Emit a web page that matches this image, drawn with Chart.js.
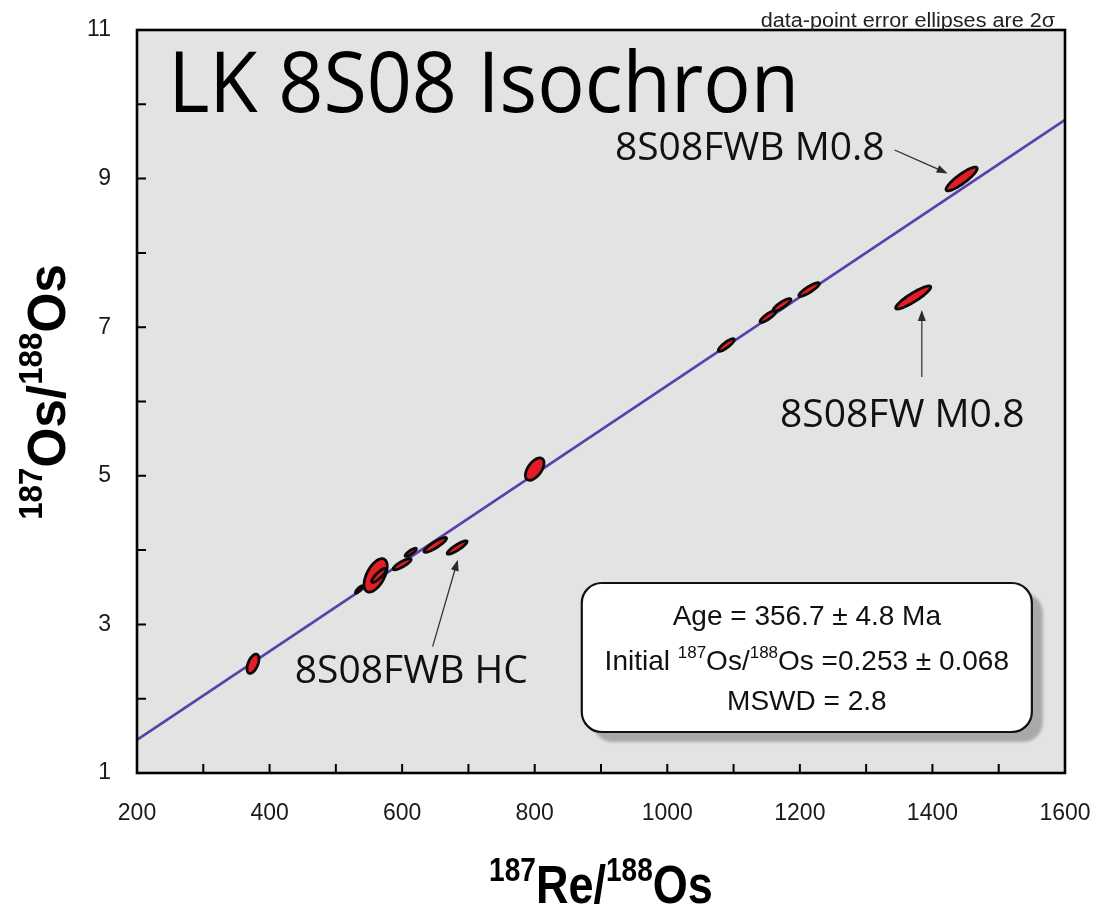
<!DOCTYPE html>
<html>
<head>
<meta charset="utf-8">
<script src="https://cdn.jsdelivr.net/npm/chart.js@4.4.1/dist/chart.umd.min.js"></script>
<style>
  html, body { margin: 0; padding: 0; background: #fff; }
  #wrap { width: 1099px; height: 911px; }
</style>
</head>
<body>
<div id="wrap"><canvas id="isochron" width="1099" height="911"></canvas></div>
<script>
// Re-Os data per sample: ratios, 2-sigma errors and error correlation
const reOs   = [375, 535, 560, 565, 600, 613, 650, 683, 800, 1089, 1152, 1173, 1214, 1371, 1444];
const osOs   = [2.47, 3.47, 3.66, 3.66, 3.81, 3.97, 4.07, 4.035, 5.09, 6.76, 7.144, 7.30, 7.507, 7.40, 8.995];
const reErr  = [9, 5.5, 17.5, 11, 13.5, 8.5, 17, 15, 14, 12, 12, 13.5, 15.5, 26.5, 23.5];
const osErr  = [0.13, 0.05, 0.225, 0.095, 0.075, 0.055, 0.1, 0.09, 0.15, 0.085, 0.08, 0.085, 0.092, 0.155, 0.16];
const errRho = [0.5, 0.85, 0.55, 0.86, 0.84, 0.84, 0.88, 0.88, 0.55, 0.85, 0.85, 0.85, 0.87, 0.9, 0.88];

// isochron result
const age = 356.7;        // Ma
const ageErr = 4.8;
const initialOs = 0.253;
const initialErr = 0.068;
const mswd = 2.8;
const lambdaRe = 1.666e-11;

// axes
const xRange = [200, 1600];
const yRange = [1, 11];
const xTickStep = 100;
const xLabelStep = 200;
const yTickStep = 1;

const slope = Math.exp(lambdaRe * age * 1e6) - 1;
const isoLine = xRange.map(v => ({ x: v, y: initialOs + slope * v }));

const FONT = "'Liberation Sans', Arial, sans-serif";
const LABEL_FONT = "'Open Sans', 'Noto Sans', sans-serif";

// text with superscript pieces, optional horizontal squeeze
function drawRich(ctx, parts, x, y, size, opts = {}) {
  const weight = opts.weight || 'normal';
  const family = opts.family || FONT;
  const squeeze = opts.squeeze || 1;
  const supSize = Math.round(size * 0.62);
  const measure = p => {
    ctx.font = `${weight} ${p.sup ? supSize : size}px ${family}`;
    return ctx.measureText(p.t).width;
  };
  const total = parts.reduce((s, p) => s + measure(p), 0) * squeeze;
  let start = x;
  if (opts.align === 'center') start = x - total / 2;
  else if (opts.align === 'right') start = x - total;
  ctx.save();
  ctx.translate(start, y);
  ctx.scale(squeeze, 1);
  ctx.textAlign = 'left';
  ctx.textBaseline = 'alphabetic';
  ctx.fillStyle = opts.color || '#111';
  let cx = 0;
  parts.forEach(p => {
    ctx.font = `${weight} ${p.sup ? supSize : size}px ${family}`;
    ctx.fillText(p.t, cx, p.sup ? -size * 0.42 : 0);
    cx += ctx.measureText(p.t).width;
  });
  ctx.restore();
}

function arrow(ctx, x0, y0, x1, y1) {
  const a = Math.atan2(y1 - y0, x1 - x0);
  const len = 11, half = 4;
  ctx.save();
  ctx.strokeStyle = '#2a2a2a';
  ctx.fillStyle = '#2a2a2a';
  ctx.lineWidth = 1.2;
  ctx.beginPath();
  ctx.moveTo(x0, y0);
  ctx.lineTo(x1 - Math.cos(a) * len * 0.8, y1 - Math.sin(a) * len * 0.8);
  ctx.stroke();
  ctx.beginPath();
  ctx.moveTo(x1, y1);
  ctx.lineTo(x1 - Math.cos(a) * len + Math.sin(a) * half, y1 - Math.sin(a) * len - Math.cos(a) * half);
  ctx.lineTo(x1 - Math.cos(a) * len - Math.sin(a) * half, y1 - Math.sin(a) * len + Math.cos(a) * half);
  ctx.closePath();
  ctx.fill();
  ctx.restore();
}

// sample labels, placed in data units
const notes = [
  { text: '8S08FWB M0.8', at: [921, 9.25], from: [1343, 9.385], to: [1423, 9.07] },
  { text: '8S08FW M0.8', at: [1170, 5.66], from: [1384, 6.33], to: [1384, 7.23] },
  { text: '8S08FWB HC', at: [438, 2.21], from: [646, 2.70], to: [684, 3.87] }
];

const isochronDecor = {
  id: 'isochronDecor',
  beforeDatasetsDraw(chart) {
    const { ctx, chartArea: a } = chart;
    ctx.save();
    ctx.fillStyle = '#e2e3e3';
    ctx.fillRect(a.left, a.top, a.right - a.left, a.bottom - a.top);
    ctx.restore();
  },
  afterDatasetsDraw(chart) {
    const { ctx, chartArea: a } = chart;
    const xs = chart.scales.x, ys = chart.scales.y;
    const px = v => xs.getPixelForValue(v);
    const py = v => ys.getPixelForValue(v);

    ctx.save();
    ctx.beginPath();
    ctx.rect(a.left, a.top, a.right - a.left, a.bottom - a.top);
    ctx.clip();

    // 2-sigma error ellipses
    reOs.forEach((xv, i) => {
      const r = errRho[i], q = Math.sqrt(1 - r * r);
      ctx.beginPath();
      for (let k = 0; k <= 90; k++) {
        const t = k / 90 * Math.PI * 2;
        const vx = xv + reErr[i] * Math.cos(t);
        const vy = osOs[i] + osErr[i] * (r * Math.cos(t) + q * Math.sin(t));
        if (k === 0) ctx.moveTo(px(vx), py(vy)); else ctx.lineTo(px(vx), py(vy));
      }
      ctx.closePath();
      ctx.fillStyle = '#e31d25';
      ctx.fill();
      ctx.lineWidth = 2.8;
      ctx.strokeStyle = '#0a0a0a';
      ctx.stroke();
    });

    // title
    drawRich(ctx, [{ t: 'LK 8S08 Isochron' }], px(247), py(9.896), 84, { family: LABEL_FONT, color: '#000', squeeze: 0.94 });

    // sample labels with arrows
    notes.forEach(n => {
      drawRich(ctx, [{ t: n.text }], px(n.at[0]), py(n.at[1]), 39, { family: LABEL_FONT, color: '#111' });
      arrow(ctx, px(n.from[0]), py(n.from[1]), px(n.to[0]), py(n.to[1]));
    });

    // result box
    const bx = px(871), by = py(3.557), bw = px(1550) - bx, bh = py(1.552) - by;
    ctx.save();
    ctx.filter = 'blur(1.5px)';
    ctx.fillStyle = '#a9a9a9';
    ctx.beginPath();
    ctx.roundRect(bx + 11, by + 10, bw, bh, 20);
    ctx.fill();
    ctx.restore();
    ctx.beginPath();
    ctx.roundRect(bx, by, bw, bh, 20);
    ctx.fillStyle = '#fff';
    ctx.fill();
    ctx.lineWidth = 2.2;
    ctx.strokeStyle = '#111';
    ctx.stroke();
    const cx = bx + bw / 2;
    drawRich(ctx, [{ t: `Age = ${age} ± ${ageErr} Ma` }], cx, by + 42, 28, { align: 'center' });
    drawRich(ctx, [
      { t: 'Initial ' }, { t: '187', sup: true }, { t: 'Os/' }, { t: '188', sup: true },
      { t: `Os =${initialOs.toFixed(3)} ± ${initialErr.toFixed(3)}` }
    ], cx, by + 87, 28, { align: 'center' });
    drawRich(ctx, [{ t: `MSWD = ${mswd}` }], cx, by + 127, 28, { align: 'center' });
    ctx.restore();
  },
  afterDraw(chart) {
    const { ctx, chartArea: a } = chart;
    const xs = chart.scales.x, ys = chart.scales.y;
    ctx.save();
    // inward tick marks
    ctx.strokeStyle = '#000';
    ctx.lineWidth = 2;
    ctx.beginPath();
    xs.ticks.forEach(t => {
      const x = xs.getPixelForValue(t.value);
      ctx.moveTo(x, a.bottom);
      ctx.lineTo(x, a.bottom - 9);
    });
    ys.ticks.forEach(t => {
      const y = ys.getPixelForValue(t.value);
      ctx.moveTo(a.left, y);
      ctx.lineTo(a.left + 9, y);
    });
    ctx.stroke();
    // frame
    ctx.lineWidth = 2.6;
    ctx.strokeRect(a.left, a.top, a.right - a.left, a.bottom - a.top);

    // axis titles
    drawRich(ctx, [{ t: '187', sup: true }, { t: 'Re/' }, { t: '188', sup: true }, { t: 'Os' }],
      (a.left + a.right) / 2, 903, 53, { weight: 'bold', align: 'center', squeeze: 0.85, color: '#000' });
    ctx.save();
    ctx.translate(65, 392);
    ctx.rotate(-Math.PI / 2);
    drawRich(ctx, [{ t: '187', sup: true }, { t: 'Os/' }, { t: '188', sup: true }, { t: 'Os' }],
      0, 0, 54, { weight: 'bold', align: 'center', squeeze: 0.95, color: '#000' });
    ctx.restore();

    drawRich(ctx, [{ t: 'data-point error ellipses are 2σ' }], a.right - 10, a.top - 3, 20, { align: 'right', color: '#222', squeeze: 1.08 });
    ctx.restore();
  }
};

new Chart(document.getElementById('isochron'), {
  type: 'scatter',
  data: {
    datasets: [{
      type: 'line',
      label: 'isochron',
      data: isoLine,
      borderColor: '#5b40a8',
      borderWidth: 2.6,
      pointRadius: 0,
      fill: false
    }]
  },
  options: {
    responsive: false,
    animation: false,
    devicePixelRatio: 1,
    layout: { padding: { top: 30, right: 34, left: 0, bottom: 0 } },
    plugins: { legend: { display: false }, tooltip: { enabled: false } },
    scales: {
      x: {
        type: 'linear',
        min: xRange[0],
        max: xRange[1],
        afterFit(s) {
          s.height = 138;
          s.paddingLeft = 0;
          s.paddingRight = 0;
        },
        grid: { display: false, drawTicks: false },
        border: { display: false },
        ticks: {
          stepSize: xTickStep,
          autoSkip: false,
          maxRotation: 0,
          padding: 27,
          color: '#1a1a1a',
          font: { family: FONT, size: 23 },
          callback: v => (v % xLabelStep === 0 ? v : '')
        }
      },
      y: {
        type: 'linear',
        min: yRange[0],
        max: yRange[1],
        afterFit(s) {
          s.width = 137;
          s.paddingTop = 0;
          s.paddingBottom = 0;
        },
        grid: { display: false, drawTicks: false },
        border: { display: false },
        ticks: {
          stepSize: yTickStep,
          autoSkip: false,
          padding: 26,
          color: '#1a1a1a',
          font: { family: FONT, size: 23 },
          callback: v => (v % 2 === 1 ? v : '')
        }
      }
    }
  },
  plugins: [isochronDecor]
});
</script>
</body>
</html>
